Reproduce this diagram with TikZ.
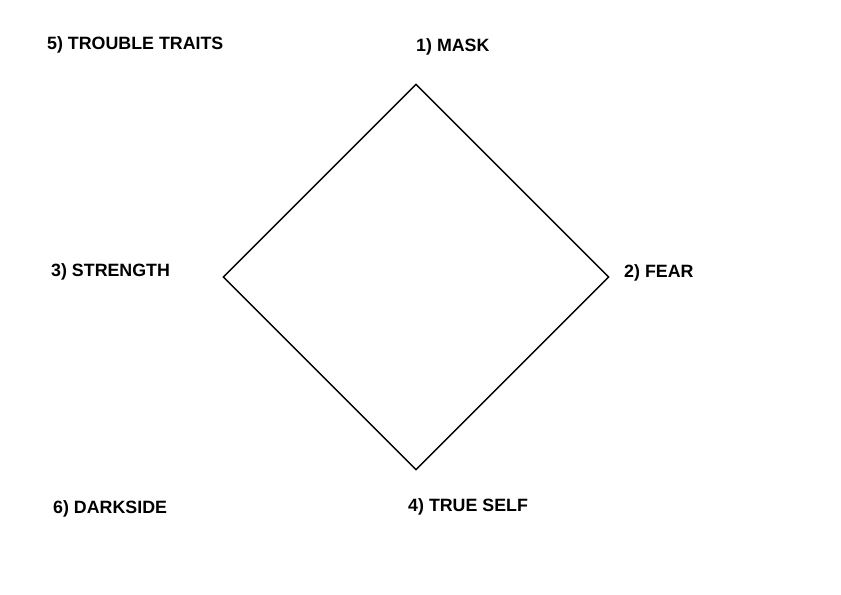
\documentclass[tikz,border=0pt]{standalone}
\usepackage{fontspec}
\setmainfont{Liberation Sans}
\usepackage{xcolor}
\usetikzlibrary{shapes.geometric}

\tikzset{
  lbl/.style={anchor=west,inner sep=0pt,font=\fontsize{15.2}{18}\selectfont\bfseries},
  frame/.style={draw,line width=1.2pt,shape=diamond,aspect=1,inner sep=0pt,
    minimum width=11.58cm,minimum height=11.58cm}
}

\begin{document}
\begin{tikzpicture}[x=0.03cm,y=-0.03cm]
  \useasboundingbox[fill=white] (0,0) rectangle (841,595);
  % the diamond
  \node[frame] (core) at (416,277) {};
  % corner labels
  \node[lbl] (mask) at (416,47) {1) MASK};
  \node[lbl] (fear) at (624,273) {2) FEAR};
  \node[lbl] (strength) at (51,272) {3) STRENGTH};
  \node[lbl] (trueself) at (408,507) {4) TRUE SELF};
  % outer labels
  \node[lbl] (trouble) at (47,45) {5) TROUBLE TRAITS};
  \node[lbl] (darkside) at (53,509) {6) DARKSIDE};
\end{tikzpicture}
\end{document}
